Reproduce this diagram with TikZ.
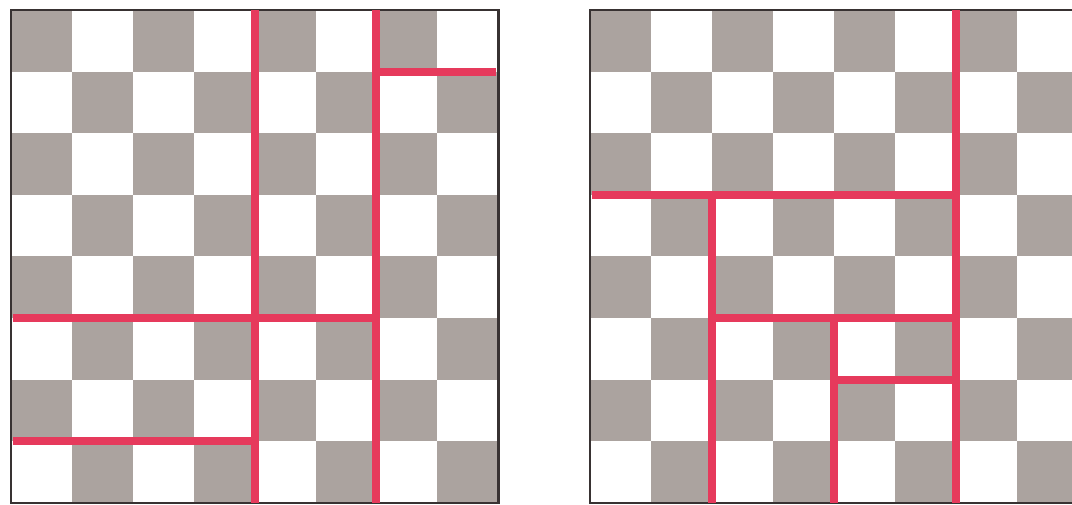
\documentclass[tikz,border=0pt]{standalone}
\definecolor{boardgray}{HTML}{ABA39F}
\definecolor{cutred}{HTML}{E63A5C}
\definecolor{framedark}{HTML}{383232}
\tikzset{
  sq/.style={fill=boardgray},
  boardframe/.style={draw=framedark,line width=2.6pt},
  cutline/.style={draw=cutred,line width=8pt}
}
\newcommand{\myboard}{%
  \foreach \r in {0,...,7}{%
    \foreach \c in {0,...,7}{%
      \pgfmathtruncatemacro{\myparity}{mod(\r+\c,2)}%
      \ifnum\myparity=0 \fill[sq] (\c,\r) rectangle ++(1,1);\fi
    }%
  }%
  \draw[boardframe] (0,0) rectangle (8,8);%
}
\begin{document}
\begin{tikzpicture}[x=1pt,y=-1pt]
\useasboundingbox (0,0) rectangle (1072,504);
\clip (0,0) rectangle (1072,504);
\fill[white] (0,0) rectangle (1072,504);
% left board
\begin{scope}[shift={(11,10)}, x=60.9pt, y=-61.6pt]
  \myboard
  \draw[cutline] (4,0) -- (4,8);
  \draw[cutline] (6,0) -- (6,8);
  \draw[cutline] (6,1) -- (7.97,1);
  \draw[cutline] (0.03,5) -- (6,5);
  \draw[cutline] (0.03,7) -- (4,7);
\end{scope}
% right board
\begin{scope}[shift={(590,10)}, x=61pt, y=-61.6pt]
  \myboard
  \draw[cutline] (6,0) -- (6,8);
  \draw[cutline] (0.03,3) -- (6,3);
  \draw[cutline] (2,3) -- (2,8);
  \draw[cutline] (2,5) -- (6,5);
  \draw[cutline] (4,5) -- (4,8);
  \draw[cutline] (4,6) -- (6,6);
\end{scope}
\end{tikzpicture}
\end{document}
